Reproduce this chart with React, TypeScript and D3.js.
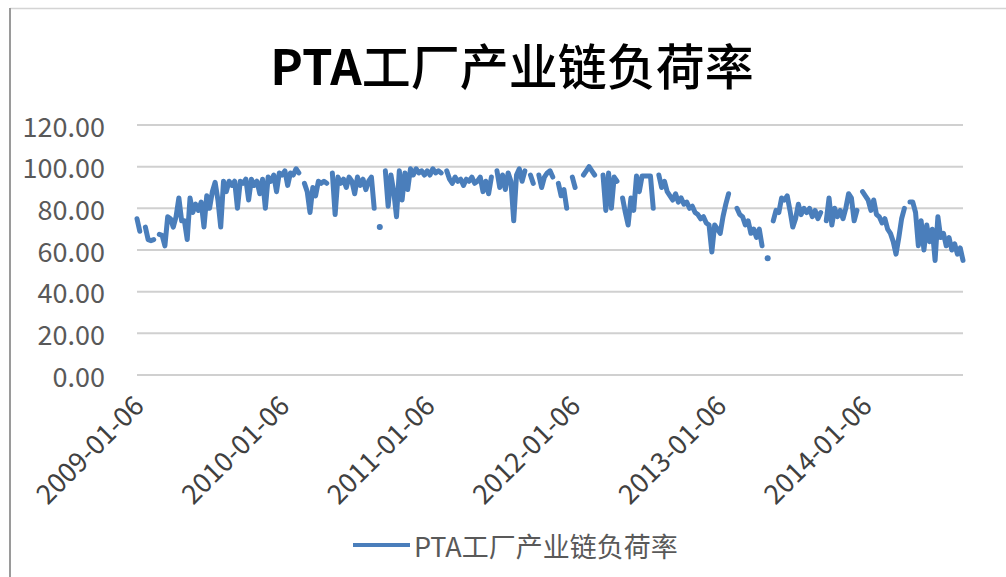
import React, { useEffect, useRef } from 'react';
import * as d3 from 'd3';

// weekly readings (Tuesdays), starting 2009-01-06; null = no data that week
const startDate = '2009-01-06';

const load2009 = [
  75, 69, null, 71, 65, 64.5, 65, null, 67.5, 67, 62, 76, 75, 71, 76, 85, 74, 74, 65, 85,
  78, 82, 79, 83, 71, 86, 80, 88, 92.5, 84, 71, 93, 88, 93, 91, 93, 80, 93, 92, 94,
  84, 94, 91, 93, 87, 94, 80, 95, 93, 96, 88, 97,
];
const load2010 = [
  96, 98, 91, 97, 96, 99, 97, null, 92, 88, 78, 90, 86, 93, 92, 93, 92, null, 97, 77,
  95, 92, 94, 90, 95, 93, 87, 95, 91, 94, 89, 93, 95, 80, null, 71, null, 98, 81, 96,
  88, 76, 98, 84, 97, 89, 99, 96, 99, 97, 98, 96,
];
const load2011 = [
  98, 96, 99, 97, 98, 97, null, 98, 94, 92, 95, 93, 94, 91, 94, 93, 95, 92, 93, 95,
  88, 93, 87, 95, null, 98, 90, 96, 89, 97, 93, 74, 96, 99, 93, 98, null, 96, 92, null,
  96, 90, 95, 97, 98, 95, null, 92, 86, 89, 80, null,
];
const load2012 = [
  95, 90, null, null, 96, 98, 100, 98, 96, null, null, 96, 79, 97, 80, 95, 93, null, 85, 78,
  72, 85, 79, 95.5, 88, 95.5, 95.5, 95.5, 95.5, 80, null, 96, 90, 93, 88, 86, 84, 87, 83, 85,
  82, 83, 80, 81, 78, 77, 75, 76, 73, 72, 59, 72,
];
const load2013 = [
  70, 68, 76, 82, 87, null, null, 80, 77, 76, 72, 74, 68, 70, 66, 70, 62, null, 56, null,
  74, 79, 78, 85, 84, 86, 79, 71, 75, 82, 77, 80, 78, 80, 76, 79, 75, 78, null, 74,
  85, 72, 80, 76, 79, 75, 80, 87, 85, 74, 79, null, 88,
];
const load2014 = [
  86, 84, 79, 84, 77, 76, 73, 75, 70, 68, 64, 58, 66, 75, 80, null, 83, 83, 78, 62,
  74, 60, 72, 64, 70, 55, 76, 66, 68, 62, 66, 60, 63, 58, 61, 55,
];

const tickLabels = ['2009-01-06', '2010-01-06', '2011-01-06', '2012-01-06', '2013-01-06', '2014-01-06'];
const yTicks = [0, 20, 40, 60, 80, 100, 120];
const seriesName = 'PTA工厂产业链负荷率';

const W = 1006;
const H = 577;
const FONT = '"Noto Sans CJK SC", "Noto Sans", sans-serif';

export default function App() {
  const ref = useRef<SVGSVGElement | null>(null);

  useEffect(() => {
    const svg = d3.select(ref.current);
    svg.selectAll('*').remove();

    const parse = d3.utcParse('%Y-%m-%d');
    const t0 = parse(startDate) as Date;
    const values = [...load2009, ...load2010, ...load2011, ...load2012, ...load2013, ...load2014];
    const data = values.map((v, i) => ({ date: d3.utcDay.offset(t0, i * 7), v }));

    const x = d3
      .scaleUtc()
      .domain([t0, data[data.length - 1].date])
      .range([137, 963]);
    const y = d3.scaleLinear().domain([0, 120]).range([375, 125]);

    svg.append('rect').attr('width', W).attr('height', H).attr('fill', '#fff');
    // cropped chart frame: only top and left edges visible
    svg.append('line').attr('x1', 10).attr('x2', W).attr('y1', 8.5).attr('y2', 8.5)
      .attr('stroke', '#d4d4d4').attr('stroke-width', 1.5);
    svg.append('line').attr('x1', 10).attr('x2', 10).attr('y1', 8).attr('y2', H)
      .attr('stroke', '#9a9a9a').attr('stroke-width', 2);

    svg.append('text')
      .attr('x', 512).attr('y', 63)
      .attr('text-anchor', 'middle').attr('dominant-baseline', 'central')
      .attr('font-family', FONT).attr('font-size', 49).attr('fill', '#000')
      .call(t => {
        t.append('tspan').attr('font-weight', 'bold').text('PTA');
        t.append('tspan').attr('font-weight', 500).text('工厂产业链负荷率');
      });

    const grid = svg.append('g');
    grid.selectAll('line').data(yTicks).enter().append('line')
      .attr('x1', 137).attr('x2', 963)
      .attr('y1', d => y(d)).attr('y2', d => y(d))
      .attr('stroke', '#d0d0d0').attr('stroke-width', 2);

    svg.append('g').selectAll('text').data(yTicks).enter().append('text')
      .attr('x', 105).attr('y', d => y(d))
      .attr('text-anchor', 'end').attr('dominant-baseline', 'central')
      .attr('font-family', FONT).attr('font-size', 27).attr('fill', '#595959')
      .text(d => d.toFixed(2));

    svg.append('g').selectAll('text').data(tickLabels).enter().append('text')
      .attr('transform', d => `translate(${x(parse(d) as Date) + 2},401) rotate(-45)`)
      .attr('text-anchor', 'end').attr('dy', '0.35em')
      .attr('font-family', FONT).attr('font-size', 27).attr('fill', '#404040')
      .text(d => d);

    const color = '#4a7ebb';
    const line = d3.line<{ date: Date; v: number | null }>()
      .defined(d => d.v != null)
      .x(d => x(d.date))
      .y(d => y(d.v as number));

    svg.append('path').datum(data)
      .attr('d', line)
      .attr('fill', 'none').attr('stroke', color).attr('stroke-width', 5)
      .attr('stroke-linejoin', 'round').attr('stroke-linecap', 'round');

    const lonely = data.filter((d, i) =>
      d.v != null && (i === 0 || data[i - 1].v == null) && (i === data.length - 1 || data[i + 1].v == null));
    svg.append('g').selectAll('circle').data(lonely).enter().append('circle')
      .attr('cx', d => x(d.date)).attr('cy', d => y(d.v as number)).attr('r', 3)
      .attr('fill', color);

    svg.append('line').attr('x1', 353).attr('x2', 410).attr('y1', 545).attr('y2', 545)
      .attr('stroke', color).attr('stroke-width', 4);
    svg.append('text').attr('x', 414).attr('y', 545)
      .attr('dominant-baseline', 'central')
      .attr('font-family', FONT).attr('font-size', 27).attr('fill', '#595959')
      .text(seriesName);
  }, []);

  return (
    <svg
      ref={ref}
      width={W}
      height={H}
      viewBox={`0 0 ${W} ${H}`}
      style={{ position: 'absolute', left: 0, top: 0 }}
    />
  );
}
